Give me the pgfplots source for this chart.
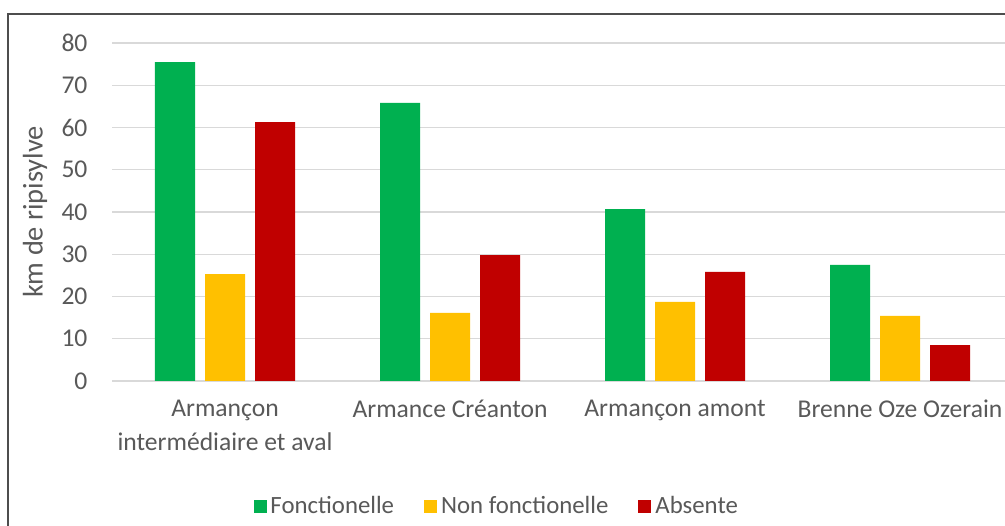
\documentclass[border=0pt]{standalone}
\usepackage{pgfplots}
\pgfplotsset{compat=1.18}
\usepackage{fontspec}
\setmainfont{Carlito}
\definecolor{txt}{HTML}{595959}
\definecolor{gridc}{HTML}{D9D9D9}
\definecolor{cgreen}{HTML}{00B050}
\definecolor{cyellow}{HTML}{FFC000}
\definecolor{cred}{HTML}{C00000}
\definecolor{frame}{HTML}{4D4D4D}
\begin{document}
\begin{tikzpicture}
\path[use as bounding box] (0,0) rectangle (502.5bp,263bp);
\fill[white] (0,0) rectangle (502.5bp,263bp);
\draw[frame, line width=1.2bp] (4bp,-2bp) -- (4bp,256bp) -- (520bp,256bp);
\begin{axis}[
  at={(56.25bp,72.5bp)}, anchor=south west,
  scale only axis, width=450bp, height=169bp,
  xmin=-0.5, xmax=3.5, ymin=0, ymax=80,
  ybar=5bp, bar width=20bp,
  axis line style={draw=none},
  major tick length=0pt,
  ytick={0,10,...,80},
  ymajorgrids, grid style={gridc, line width=0.6bp},
  xtick={0,1,2,3},
  xticklabels={{Armançon\\intermédiaire et aval}, Armance Créanton, Armançon amont, Brenne Oze Ozerain},
  /pgf/number format/assume math mode=true,
  tick label style={font=\fontsize{12.8bp}{17bp}\selectfont, text=txt},
  yticklabel style={anchor=east, xshift=-9bp},
  xticklabel style={align=center, anchor=north, yshift=-6bp},
  ylabel={km de ripisylve},
  every axis y label/.style={at={(-38.75bp,84.5bp)}, rotate=90, anchor=center,
    font=\fontsize{14.2bp}{16bp}\selectfont, text=txt},
  legend style={at={(0.428,-0.37)}, anchor=center, draw=none, fill=none,
    font=\fontsize{12.4bp}{14bp}\selectfont, text=txt, legend columns=3,
    /tikz/every even column/.append style={column sep=13bp}},
  legend image code/.code={\fill[#1] (0bp,-3.25bp) rectangle (6.5bp,3.25bp);},
]
\addplot[fill=cgreen, draw=none] coordinates {(0,75.5) (1,65.8) (2,40.7) (3,27.5)};
\addplot[fill=cyellow, draw=none] coordinates {(0,25.3) (1,16.1) (2,18.7) (3,15.4)};
\addplot[fill=cred, draw=none] coordinates {(0,61.3) (1,29.8) (2,25.8) (3,8.5)};
\legend{Fonctionelle, Non fonctionelle, Absente}
\end{axis}
\end{tikzpicture}
\end{document}
